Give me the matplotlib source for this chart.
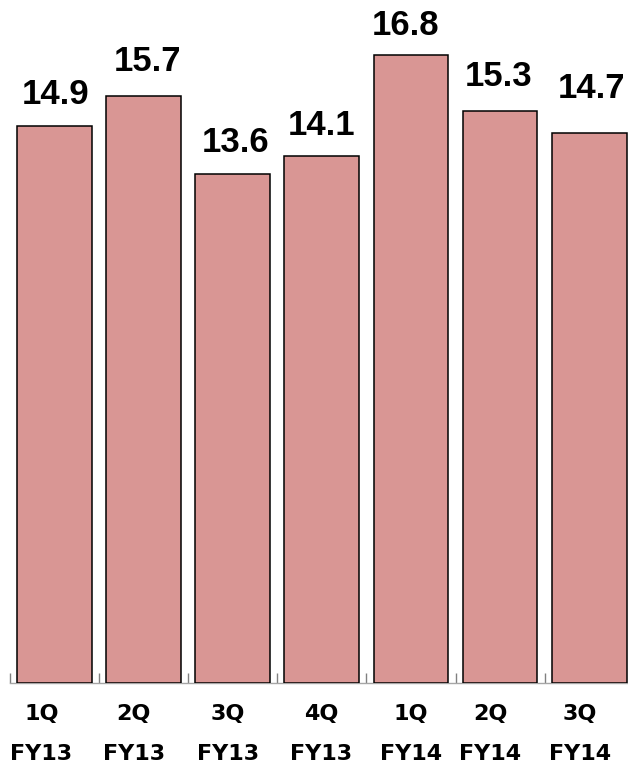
import matplotlib
matplotlib.use("Agg")
import matplotlib.pyplot as plt

quarters = ["1Q", "2Q", "3Q", "4Q", "1Q", "2Q", "3Q"]
years = ["FY13", "FY13", "FY13", "FY13", "FY14", "FY14", "FY14"]
values = [14.9, 15.7, 13.6, 14.1, 16.8, 15.3, 14.7]

# the text boxes were placed by hand, so each one sits a little differently (points)
label_shift = [-9.4, -7.2, -3.6, -0.7, 0.0, -7.2, -6.5]
value_dx = [0.4, 2.5, 1.8, 0.0, -3.6, -1.1, 1.8]
value_dy = [15.8, 18.0, 15.8, 15.1, 14.4, 18.0, 25.2]

fig = plt.figure(figsize=(6.28, 7.65), dpi=100)
ax = fig.add_axes([10 / 628, 82 / 765, 618 / 628, 683 / 765])

xs = list(range(len(values)))
ax.bar(xs, values, width=0.84, color="#D99694", edgecolor="black", linewidth=1.1, zorder=3)

for side in ["left", "top", "right"]:
    ax.spines[side].set_visible(False)
ax.spines["bottom"].set_color("#A6A6A6")
ax.spines["bottom"].set_linewidth(1.0)

ax.set_yticks([])
ax.set_xticks([i - 0.5 for i in range(len(values) + 1)])
ax.set_xticklabels([])
ax.tick_params(axis="x", direction="in", length=7.5, width=1.0, color="#808080")

# limits after the ticks, otherwise set_xticks widens the view to the last tick
ax.set_xlim(-0.5, -0.5 + 618 / 89.1)
ax.set_ylim(0, 683 / 37.4)

for i, v in enumerate(values):
    ax.annotate(f"{v:.1f}", (i, v), xytext=(value_dx[i], value_dy[i]), textcoords="offset points",
                ha="center", va="baseline", fontsize=25, fontweight="bold",
                family="Liberation Sans", color="black", annotation_clip=False)

for i in xs:
    ax.annotate(quarters[i], (i, 0), xytext=(label_shift[i], -26.6), textcoords="offset points",
                ha="center", va="baseline", fontsize=16, fontweight="bold",
                family="DejaVu Sans", color="black", annotation_clip=False)
    ax.annotate(years[i], (i, 0), xytext=(label_shift[i], -55.2), textcoords="offset points",
                ha="center", va="baseline", fontsize=16, fontweight="bold",
                family="DejaVu Sans", color="black", annotation_clip=False)

fig.savefig("out.png", dpi=100)
